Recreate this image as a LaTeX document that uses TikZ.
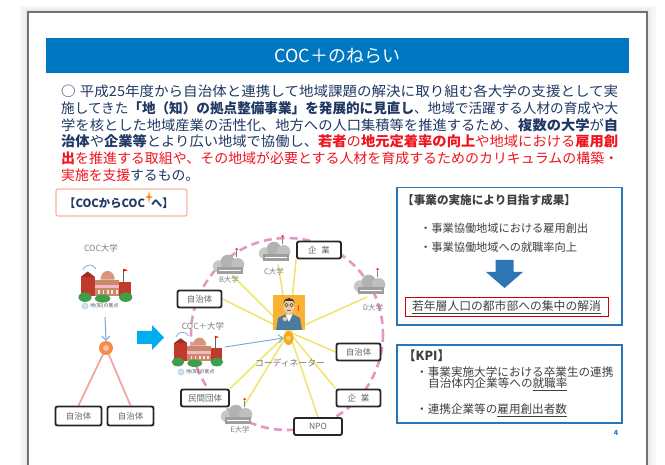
\documentclass[tikz,border=0pt]{standalone}
\usepackage{fontspec}
\usepackage{graphicx}
\setmainfont{Noto Sans CJK JP}
\usetikzlibrary{arrows.meta,shapes.geometric}

\definecolor{titleblue}{HTML}{0078C1}
\definecolor{navy}{HTML}{1F3864}
\definecolor{bodyred}{HTML}{F0141E}
\definecolor{panelblue}{HTML}{2E75B6}
\definecolor{dashpink}{HTML}{E497C6}
\definecolor{spoke}{HTML}{F2E468}
\definecolor{skyarrow}{HTML}{00AEEF}
\definecolor{coordorange}{HTML}{F9B233}
\definecolor{salmonline}{HTML}{F4A6A0}
\definecolor{labelframe}{HTML}{F6B89A}
\definecolor{graytext}{HTML}{404040}
\definecolor{bldgbrown}{HTML}{C98A6B}
\definecolor{domecol}{HTML}{D9967A}
\definecolor{redbldg}{HTML}{C0392B}
\definecolor{bushgreen}{HTML}{3E9E4A}
\definecolor{pinkstripe}{HTML}{F5B7C5}
\definecolor{jacket}{HTML}{4A7A9C}
\definecolor{skin}{HTML}{F2C9A0}
\definecolor{hair}{HTML}{4A3426}
\definecolor{hubfill}{HTML}{F7A823}
\definecolor{hubcore}{HTML}{FCD56A}
\definecolor{smallarrow}{HTML}{6FA8DC}
\definecolor{knot}{HTML}{F58B4C}

\pgfdeclarelayer{sheet}
\pgfdeclarelayer{wires}
\pgfsetlayers{sheet,wires,main}

\newcommand\navyb[1]{{\bfseries #1}}
\newcommand\redn[1]{{\color{bodyred}#1}}
\newcommand\redb[1]{{\color{bodyred}\bfseries #1}}
\newcommand\fitline[1]{\resizebox{557pt}{\height}{#1}}

\tikzset{
  bodyline/.style={anchor=base west, inner sep=0pt, text=navy,
    font=\fontsize{13.8}{16}\selectfont},
  orgbox/.style={draw=black!85, line width=1.9pt, rounded corners=2pt,
    fill=white, minimum width=44pt, minimum height=17pt, inner sep=0pt,
    font=\fontsize{8.5}{9}\selectfont, text=black!60},
  unilabel/.style={inner sep=0pt, text=black!50, font=\fontsize{7.5}{8}\selectfont},
  paneltext/.style={anchor=west, inner sep=0pt, text=graytext,
    font=\fontsize{11.2}{13}\selectfont},
  grayuni/.pic={
    \fill[black!22] (-10,3) circle (5.5);
    \fill[black!30] (-2,-1) circle (6.5);
    \fill[black!25] (7,1.5) circle (6);
    \fill[black!38] (-12,4) rectangle (12,10);
    \draw[white, line width=0.5] (-10,7) -- (10,7);
    \draw[black!50, line width=0.6] (6,-5) -- (6,-11);
    \fill[red!75] (6,-12.5) circle (1.3);
  },
  cocuni/.pic={
    \draw[smallarrow, line width=0.7] (-22,-8) .. controls (-19,-13) and (-13,-13) .. (-10,-9);
    \fill[redbldg] (-24,-3) rectangle (-11,11);
    \fill[redbldg!80!black] (-24,-3) -- (-17.5,-7) -- (-11,-3) -- cycle;
    \fill[bldgbrown] (-11,-1) rectangle (11,11);
    \fill[domecol] (-6,-1) arc (180:360:6.5) -- cycle;
    \fill[pinkstripe] (-11,3) rectangle (11,5.5);
    \foreach \wx in {-8,-4,0,4,8} {\fill[white!80!bldgbrown] (\wx,7) rectangle (\wx+1.6,10);}
    \fill[redbldg] (11,1) rectangle (22,11);
    \draw[black!60, line width=0.5] (15,1) -- (15,-9);
    \fill[red] (15,-9) -- (19,-8) -- (15,-7) -- cycle;
    \fill[bushgreen] (-20,12) ellipse (6 and 3.5);
    \fill[bushgreen] (-4,13) ellipse (7 and 3);
    \fill[bushgreen] (17,12) ellipse (6 and 3.5);
  },
  cocmark/.pic={
    \fill[cyan!35] (-19,0) circle (3.5);
    \fill[pink!70] (-19,0) circle (2);
    \node[inner sep=0pt, text=black!65, font=\fontsize{5}{5}\selectfont, anchor=west] (-txt) at (-14,0) {地(知)の拠点};
  }
}

\begin{document}
\begin{tikzpicture}[x=1pt, y=-1pt]
\useasboundingbox (0,0) rectangle (665,465);

% slide sheet with a soft shadow
\begin{pgfonlayer}{sheet}
\fill[white] (0,0) rectangle (665,465);
\fill[black!3] (20,6) rectangle (656,470);
\fill[black!6] (23,8) rectangle (652,470);
\fill[black!10] (26,10) rectangle (649,470);
\fill[white] (28,12) rectangle (647,470);
\draw[black!55, line width=1.3pt] (28,470) -- (28,12) -- (647,12) -- (647,470);
\end{pgfonlayer}

% title bar
\fill[titleblue] (46,38) rectangle (629,73);
\node[text=white, inner sep=0pt, font=\fontsize{18}{20}\selectfont] (title) at (337.5,55.5) {COC＋のねらい};

% lead paragraph
\node[bodyline] (l1) at (61,96.3) {\fitline{○\hspace{4pt}平成25年度から自治体と連携して地域課題の解決に取り組む各大学の支援として実}};
\node[bodyline] (l2) at (61,113.2) {\fitline{施してきた\navyb{「地（知）の拠点整備事業」を発展的に見直し}、地域で活躍する人材の育成や大}};
\node[bodyline] (l3) at (61,130.1) {\fitline{学を核とした地域産業の活性化、地方への人口集積等を推進するため、\navyb{複数の大学}が\navyb{自}}};
\node[bodyline] (l4) at (61,147.0) {\fitline{\navyb{治体}や\navyb{企業等}とより広い地域で協働し、\redb{若者}\redn{の}\redb{地元定着率の向上}\redn{や地域における}\redb{雇用創}}};
\node[bodyline] (l5) at (61,163.9) {\fitline{\redb{出}\redn{を推進する取組や、その地域が必要とする人材を育成するためのカリキュラムの構築・}}};
\node[bodyline] (l6) at (61,180.8) {\redn{実施を支援}するもの。};

% ---------- left: COC to COC+ ----------
\draw[labelframe, line width=1.2pt, rounded corners=2pt] (56,189) rectangle (187,216);
\node[anchor=west, inner sep=0pt, text=navy, font=\bfseries\fontsize{11.3}{12}\selectfont] (fromto) at (64,203) {【COCからCOC\hspace{6pt}へ】};
\fill[orange] (149,190.5) -- (149.8,196) -- (153,197) -- (149.8,198) -- (149,203.5) -- (148.2,198) -- (145,197) -- (148.2,196) -- cycle;

\node[unilabel, font=\fontsize{8.5}{9}\selectfont] (cocname) at (101,248) {COC大学};
\pic[xscale=1.1, yscale=1.35] (coc) at (107,281) {cocuni};
\pic (cocm) at (104,306) {cocmark};
\coordinate (cocfoot) at (105,317);
\node[circle, fill=knot, minimum size=14pt, inner sep=0pt] (knotA) at (106,348) {};
\fill[knot!50!white] (106,348) circle (3);
\draw[-{Straight Barb[length=4pt]}, smallarrow, line width=1pt] (cocfoot) -- (knotA.north);
\node[orgbox, minimum width=46pt, minimum height=19pt] (muniA) at (78.5,416) {自治体};
\node[orgbox, minimum width=46pt, minimum height=19pt] (muniB) at (130.5,416) {自治体};
\begin{pgfonlayer}{wires}
\draw[salmonline, line width=1.8pt] (knotA.center) -- (muniA.north);
\draw[salmonline, line width=1.8pt] (knotA.center) -- (muniB.north);
\end{pgfonlayer}

% transition arrow
\fill[skyarrow] (137,331) -- (152,331) -- (152,325) -- (164,337.5) -- (152,350) -- (152,344) -- (137,344) -- cycle;

% ---------- right: COC+ network ----------
\begin{pgfonlayer}{wires}
\draw[dashpink, line width=2.6pt, dash pattern=on 8pt off 5pt] (287,334) circle (96);
\end{pgfonlayer}

\coordinate (hub) at (289,332);
\coordinate (uniB) at (232,275);
\coordinate (uniC) at (278,264);
\coordinate (uniD) at (367,297);
\coordinate (uniE) at (244,406);

\node[orgbox] (firmT) at (319,250) {企\hspace{5pt}業};
\node[orgbox] (muniL) at (199.5,299) {自治体};
\node[orgbox] (muniR) at (358.5,352) {自治体};
\node[orgbox] (firmB) at (358.5,398) {企\hspace{5pt}業};
\node[orgbox, minimum width=48pt] (npo) at (318,426.5) {NPO};
\node[orgbox, minimum width=48pt] (civil) at (205,398) {民間団体};

\begin{pgfonlayer}{wires}
\foreach \t in {firmT.south west, muniL.east, muniR.west, firmB.north west, npo.north, civil.north east, uniB, uniC, uniD, uniE}
  \draw[spoke, line width=1.5pt] (hub) -- (\t);
\end{pgfonlayer}

% partner universities
\pic[scale=1.1] (bU) at (230,263) {grayuni};
\node[unilabel] (bName) at (229,280) {B大学};
\pic[scale=1.1] (cU) at (276,250) {grayuni};
\node[unilabel] (cName) at (274,272) {C大学};
\pic[scale=1.1] (dU) at (371,283) {grayuni};
\node[unilabel] (dName) at (373,308) {D大学};
\pic[scale=1.1] (eU) at (238,413) {grayuni};
\node[unilabel] (eName) at (240,430) {E大学};

% COC+ university
\node[unilabel, font=\fontsize{8.5}{9}\selectfont] (cocpName) at (203,326) {COC＋大学};
\pic[xscale=1.05, yscale=1.25] (cocp) at (199,347) {cocuni};
\pic (cocpm) at (200,372) {cocmark};
\coordinate (cocpOut) at (225,347);

% coordinator
\node[fill=coordorange, minimum width=32pt, minimum height=35pt, inner sep=0pt] (coord) at (289,312.5) {};
\fill[jacket] (276,330) -- (278,318) -- (285,314.5) -- (293,314.5) -- (300,318) -- (302,330) -- cycle;
\fill[white] (285.5,314.5) -- (289,322) -- (292.5,314.5) -- cycle;
\fill[skin] (289,306) ellipse (5.5 and 8);
\fill[hair] (283.5,304) .. controls (283,296) and (295,296) .. (294.5,304) -- (293,301) -- (285,301) -- cycle;
\draw[black!70, line width=0.5pt] (286.5,305) circle (1.8) (291.5,305) circle (1.8);
\draw[black!60, line width=0.5pt] (287,310.5) -- (291,310.5);
\fill[skin] (285,319) ellipse (2.5 and 2);
\fill[red!80] (297.5,305) rectangle (299,311);
\node[ellipse, fill=hubfill, minimum width=10pt, minimum height=14pt, inner sep=0pt] (hubmark) at (288.5,338) {};
\fill[hubcore] (288.5,338) circle (2.5);
\draw[-{Straight Barb[length=4pt]}, smallarrow, line width=0.9pt] (cocpOut) -- (hubmark.west);
\node[inner sep=0pt, text=black!55, font=\fontsize{8.8}{9}\selectfont] (coordName) at (290,363) {コーディネーター};

% ---------- right: outcome panel ----------
\draw[panelblue, line width=1.2pt] (397,187.5) rectangle (622,325);
\node[anchor=west, inner sep=0pt, text=graytext, font=\bfseries\fontsize{11.6}{13}\selectfont] (goal) at (402,200) {【事業の実施により目指す成果】};
\node[paneltext] (goal1) at (420,228) {・事業協働地域における雇用創出};
\node[paneltext] (goal2) at (420,247) {・事業協働地域への就職率向上};
\fill[panelblue] (495.5,260) -- (513.5,260) -- (513.5,272) -- (523,272) -- (504.5,288) -- (486,272) -- (495.5,272) -- cycle;
\node[draw=red!80!black, line width=1pt, minimum width=203pt, minimum height=19pt, inner sep=0pt, text=graytext, font=\fontsize{11.8}{13}\selectfont] (result) at (506.5,307.5) {\underline{若年層人口の都市部への集中の解消}};

% ---------- right: KPI panel ----------
\draw[panelblue, line width=1.2pt] (397,345) rectangle (622,423);
\node[anchor=west, inner sep=0pt, text=graytext, font=\bfseries\fontsize{12.5}{13}\selectfont] (kpi) at (403,355.5) {【KPI】};
\node[paneltext, font=\fontsize{11.6}{13}\selectfont] (kpi1a) at (416,372) {・事業実施大学における卒業生の連携};
\node[paneltext, font=\fontsize{11.6}{13}\selectfont] (kpi1b) at (428,384) {自治体内企業等への\underline{就職率}};
\node[paneltext, font=\fontsize{11.6}{13}\selectfont] (kpi2) at (416,410) {・連携企業等の\underline{雇用創出者数}};

\node[inner sep=0pt, text=panelblue, font=\bfseries\fontsize{7}{8}\selectfont] (pageno) at (616,433) {4};
\end{tikzpicture}
\end{document}
